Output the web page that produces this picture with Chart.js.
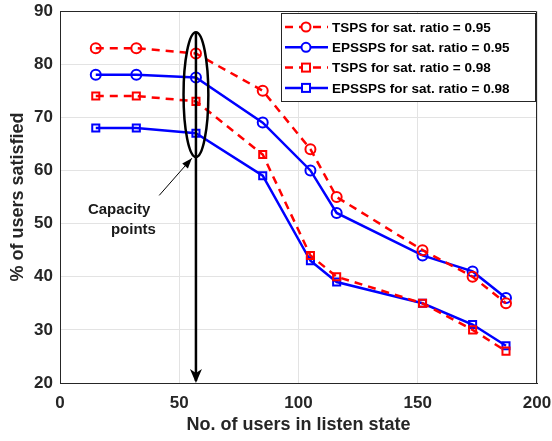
<!DOCTYPE html>
<html lang="en">
<head>
    <meta charset="UTF-8">
    <title>% of users satisfied vs users in listen state</title>
    <script src="https://cdn.jsdelivr.net/npm/chart.js"></script>
    <style>
        html, body { margin: 0; padding: 0; background: #ffffff; }
        #wrap { width: 552px; height: 441px; }
    </style>
</head>
<body>
    <div id="wrap"><canvas id="satChart" width="552" height="441"></canvas></div>
    <script>
        // users in listen state (x axis)
        const listenUsers = [15, 32, 57, 85, 105, 116, 152, 173, 187];

        // % of users satisfied, one array per curve
        const tsps095   = [83, 83, 82, 75, 64, 55, 45, 40, 35];
        const epssps095 = [78, 78, 77.5, 69, 60, 52, 44, 41, 36];
        const tsps098   = [74, 74, 73, 63, 44, 40, 35, 30, 26];
        const epssps098 = [68, 68, 67, 59, 43, 39, 35, 31, 27];

        const seriesLabels = [
            'TSPS for sat. ratio = 0.95',
            'EPSSPS for sat. ratio = 0.95',
            'TSPS for sat. ratio = 0.98',
            'EPSSPS for sat. ratio = 0.98'
        ];

        // capacity point annotation (data units)
        const capacityX = 57;
        const ellipseY = [62.5, 86];
        const ellipseHalfWidth = 5.2;
        const noteText = ['Capacity', 'points'];

        const RED = '#ff0000';
        const BLUE = '#0000ff';
        const FONT = '"Liberation Sans", Arial, sans-serif';

        function toPoints(ys) {
            return listenUsers.map((x, i) => ({ x: x, y: ys[i] }));
        }

        function makeSet(label, ys, color, dashed, marker) {
            return {
                label: label,
                data: toPoints(ys),
                borderColor: color,
                backgroundColor: 'rgba(0,0,0,0)',
                borderWidth: 2.5,
                borderDash: dashed ? [8, 6] : [],
                pointStyle: marker,
                pointRadius: 5,
                pointBorderWidth: 2,
                pointBorderColor: color,
                pointBackgroundColor: 'rgba(0,0,0,0)',
                tension: 0
            };
        }

        // box round the plot area (top and right edges)
        const plotBox = {
            id: 'plotBox',
            beforeDatasetsDraw(chart) {
                const a = chart.chartArea, c = chart.ctx;
                c.save();
                c.strokeStyle = '#262626';
                c.lineWidth = 1;
                c.beginPath();
                c.moveTo(Math.round(a.left) + 0.5, Math.round(a.top) + 0.5);
                c.lineTo(Math.round(a.right) - 0.5, Math.round(a.top) + 0.5);
                c.lineTo(Math.round(a.right) - 0.5, Math.round(a.bottom));
                c.stroke();
                c.restore();
            }
        };

        // draws the capacity ellipse, arrows and note
        const capacityNote = {
            id: 'capacityNote',
            afterDatasetsDraw(chart) {
                const c = chart.ctx;
                const xs = chart.scales.x, ys = chart.scales.y;
                const cx = xs.getPixelForValue(capacityX);
                const top = ys.getPixelForValue(ellipseY[1]);
                const bot = ys.getPixelForValue(ellipseY[0]);
                const rx = xs.getPixelForValue(capacityX + ellipseHalfWidth) - cx;
                c.save();
                c.strokeStyle = '#000';
                c.fillStyle = '#000';
                c.lineWidth = 2.5;
                c.beginPath();
                c.ellipse(cx, (top + bot) / 2, rx, (bot - top) / 2, 0, 0, Math.PI * 2);
                c.stroke();

                // vertical arrow down to the x axis
                const yEnd = ys.getPixelForValue(20);
                c.beginPath();
                c.moveTo(cx, top);
                c.lineTo(cx, yEnd - 2);
                c.stroke();
                c.beginPath();
                c.moveTo(cx, yEnd);
                c.lineTo(cx - 6, yEnd - 14);
                c.lineTo(cx, yEnd - 10);
                c.lineTo(cx + 6, yEnd - 14);
                c.closePath();
                c.fill();

                // thin pointer from the note to the ellipse
                const px0 = xs.getPixelForValue(41.6), py0 = ys.getPixelForValue(55.3);
                const px1 = xs.getPixelForValue(55.3), py1 = ys.getPixelForValue(62.3);
                c.lineWidth = 1;
                c.beginPath();
                c.moveTo(px0, py0);
                c.lineTo(px1, py1);
                c.stroke();
                const ang = Math.atan2(py1 - py0, px1 - px0);
                c.beginPath();
                c.moveTo(px1, py1);
                c.lineTo(px1 - 11 * Math.cos(ang - 0.35), py1 - 11 * Math.sin(ang - 0.35));
                c.lineTo(px1 - 11 * Math.cos(ang + 0.35), py1 - 11 * Math.sin(ang + 0.35));
                c.closePath();
                c.fill();

                c.font = 'bold 15px ' + FONT;
                c.textAlign = 'center';
                c.textBaseline = 'middle';
                c.fillStyle = '#1a1a1a';
                c.fillText(noteText[0], xs.getPixelForValue(24.8), ys.getPixelForValue(52.6));
                c.fillText(noteText[1], xs.getPixelForValue(30.8), ys.getPixelForValue(48.9));
                c.restore();
            }
        };

        // MATLAB style boxed legend in the top right corner
        const boxLegend = {
            id: 'boxLegend',
            afterDraw(chart) {
                const c = chart.ctx;
                const area = chart.chartArea;
                const w = 255, h = 89;
                const left = area.right - w - 1, top = area.top + 2;
                c.save();
                c.fillStyle = '#fff';
                c.fillRect(left, top, w, h);
                c.strokeStyle = '#262626';
                c.lineWidth = 1;
                c.strokeRect(left + 0.5, top + 0.5, w - 1, h - 1);
                chart.data.datasets.forEach((ds, i) => {
                    const y = top + 14 + i * 20.3;
                    c.strokeStyle = ds.borderColor;
                    c.lineWidth = ds.borderWidth;
                    c.setLineDash(ds.borderDash);
                    c.beginPath();
                    c.moveTo(left + 4, y);
                    c.lineTo(left + 47, y);
                    c.stroke();
                    c.setLineDash([]);
                    c.lineWidth = 2;
                    c.fillStyle = '#fff';
                    const mx = left + 25;
                    if (ds.pointStyle === 'circle') {
                        c.beginPath();
                        c.arc(mx, y, 4.5, 0, Math.PI * 2);
                        c.fill();
                        c.stroke();
                    } else {
                        c.fillRect(mx - 4, y - 4, 8, 8);
                        c.strokeRect(mx - 4, y - 4, 8, 8);
                    }
                    c.fillStyle = '#000';
                    c.font = 'bold 13.5px ' + FONT;
                    c.textAlign = 'left';
                    c.textBaseline = 'middle';
                    c.fillText(ds.label, left + 51, y + 1);
                });
                c.restore();
            }
        };

        const config = {
            type: 'line',
            data: {
                datasets: [
                    makeSet(seriesLabels[0], tsps095, RED, true, 'circle'),
                    makeSet(seriesLabels[1], epssps095, BLUE, false, 'circle'),
                    makeSet(seriesLabels[2], tsps098, RED, true, 'rect'),
                    makeSet(seriesLabels[3], epssps098, BLUE, false, 'rect')
                ]
            },
            options: {
                responsive: false,
                animation: false,
                layout: { padding: { left: 0, right: 15, top: 11, bottom: 0 } },
                plugins: {
                    legend: { display: false },
                    tooltip: { enabled: false }
                },
                scales: {
                    x: {
                        type: 'linear',
                        min: 0,
                        max: 200,
                        ticks: {
                            stepSize: 50,
                            color: '#262626',
                            font: { family: FONT, size: 17, weight: 'bold' },
                            padding: 10,
                            maxRotation: 0
                        },
                        grid: { color: '#e3e3e3', lineWidth: 1, drawTicks: false },
                        border: { color: '#262626', width: 1 },
                        title: {
                            display: true,
                            text: 'No. of users in listen state',
                            color: '#262626',
                            font: { family: FONT, size: 18, weight: 'bold' },
                            padding: { top: 0, bottom: 5 }
                        },
                        afterFit(scale) {
                            scale.height = 58;
                            scale.paddingLeft = 0;
                            scale.paddingRight = 0;
                        }
                    },
                    y: {
                        min: 20,
                        max: 90,
                        ticks: {
                            stepSize: 10,
                            color: '#262626',
                            font: { family: FONT, size: 17, weight: 'bold' },
                            padding: 7
                        },
                        grid: { color: '#e3e3e3', lineWidth: 1, drawTicks: false },
                        border: { color: '#262626', width: 1 },
                        title: {
                            display: true,
                            text: '% of users satisfied',
                            color: '#262626',
                            font: { family: FONT, size: 18, weight: 'bold' },
                            padding: { top: 7, bottom: 0 }
                        },
                        afterFit(scale) {
                            scale.width = 60;
                            scale.paddingTop = 0;
                            scale.paddingBottom = 0;
                        }
                    }
                }
            },
            plugins: [plotBox, capacityNote, boxLegend]
        };

        new Chart(document.getElementById('satChart').getContext('2d'), config);
    </script>
</body>
</html>
